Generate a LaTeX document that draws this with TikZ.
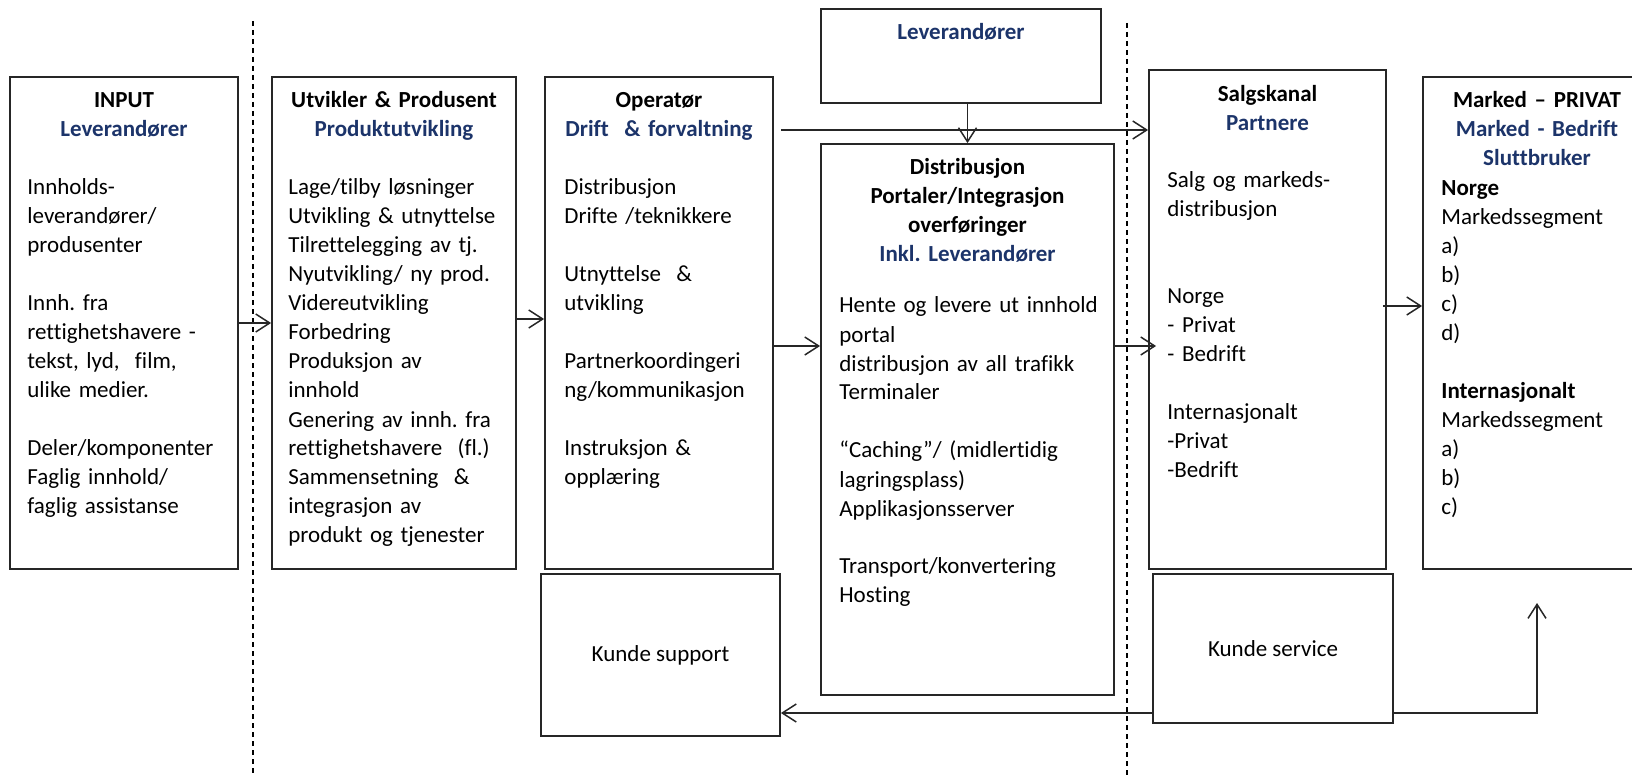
\documentclass[tikz,border=0pt]{standalone}
\usepackage{fontspec}
\setmainfont{Carlito}[Ligatures=NoCommon]
\frenchspacing
\usetikzlibrary{arrows.meta}
\definecolor{navy}{RGB}{28,52,106}

\begin{document}
\begin{tikzpicture}[
    x=0.5pt,
    y=-0.5pt,
    every node/.style={
      inner sep=0pt,
      font=\fontsize{11.5}{14.5}\selectfont
    },
    stagebox/.style={
      draw=black!85,
      line width=0.9pt,
      rectangle
    },
    headtext/.style={
      anchor=base,
      align=center,
      text width=130pt,
      font=\fontsize{11.5}{14.5}\selectfont\bfseries
    },
    listtext/.style={
      anchor=base west,
      align=left,
      text width=115pt
    },
    flow/.style={
      draw=black!85,
      line width=0.75pt,
      -{Straight Barb[length=7pt,width=9pt]}
    },
    divider/.style={
      draw=black,
      line width=0.6pt,
      dash pattern=on 2.5pt off 2pt
    }
  ]
    \useasboundingbox (0,0) rectangle (1632,775);

    \draw[divider] (253,21) -- (253,775);
    \draw[divider] (1127,23) -- (1127,775);

    \node[stagebox, minimum width=114pt, minimum height=246pt] (input) at (124,323) {};
    \node[stagebox, minimum width=122pt, minimum height=246pt] (utvikler) at (394,323) {};
    \node[stagebox, minimum width=114pt, minimum height=246pt] (operator) at (659,323) {};
    \node[stagebox, minimum width=140pt, minimum height=47pt] (lev) at (961,56) {};
    \node[stagebox, minimum width=146.5pt, minimum height=275.5pt] (distr) at (967.5,419.5) {};
    \node[stagebox, minimum width=118.5pt, minimum height=249.5pt] (salg) at (1267.5,319.5) {};
    \node[stagebox, minimum width=114pt, minimum height=246pt] (marked) at (1537,323) {};
    \node[stagebox, minimum width=119.5pt, minimum height=81pt] (support) at (660.5,655) {Kunde support};
    \node[stagebox, minimum width=120pt, minimum height=74.5pt] (service) at (1273,648.5) {Kunde service};

    \node[headtext] (inputhead) at (124,108) {INPUT\\\textcolor{navy}{Leverandører}};
    \node[headtext] (utvhead) at (394,108) {Utvikler \& Produsent\\\textcolor{navy}{Produktutvikling}};
    \node[headtext] (ophead) at (659,108) {Operatør\\\textcolor{navy}{Drift~ \& forvaltning}};
    \node[headtext] (levhead) at (961,40) {\textcolor{navy}{Leverandører}};
    \node[headtext] (disthead) at (967.5,175) {Distribusjon\\Portaler/Integrasjon\\overføringer\\\textcolor{navy}{Inkl. Leverandører}};
    \node[headtext] (salghead) at (1267.5,102) {Salgskanal\\\textcolor{navy}{Partnere}};
    \node[headtext] (markhead) at (1537,108) {Marked – PRIVAT\\\textcolor{navy}{Marked - Bedrift}\\\textcolor{navy}{Sluttbruker}};

    \node[listtext] (inputlist) at (27,195) {Innholds-\\leverandører/\\produsenter\\[14.5pt]Innh. fra\\rettighetshavere -\\tekst, lyd,~ film,\\ulike medier.\\[14.5pt]Deler/komponenter\\Faglig innhold/\\faglig assistanse};
    \node[listtext] (utvlist) at (288,195) {Lage/tilby løsninger\\Utvikling \& utnyttelse\\Tilrettelegging av tj.\\Nyutvikling/ ny prod.\\Videreutvikling\\Forbedring\\Produksjon av\\innhold\\Genering av innh. fra\\rettighetshavere~ (fl.)\\Sammensetning~ \&\\integrasjon av\\produkt og tjenester};
    \node[listtext] (oplist) at (564,195) {Distribusjon\\Drifte /teknikkere\\[14.5pt]Utnyttelse~ \&\\utvikling\\[14.5pt]Partnerkoordingeri\\ng/kommunikasjon\\[14.5pt]Instruksjon \&\\opplæring};
    \node[listtext, text width=140pt] (distlist) at (839,313) {Hente og levere ut innhold\\portal\\distribusjon av all trafikk\\Terminaler\\[14.5pt]“Caching”/ (midlertidig\\lagringsplass)\\Applikasjonsserver\\[14.5pt]Transport/konvertering\\Hosting};
    \node[listtext] (salglist) at (1167,188) {Salg og markeds-\\distribusjon\\[29pt]Norge\\- Privat\\- Bedrift\\[14.5pt]Internasjonalt\\-Privat\\-Bedrift};
    \node[listtext] (markedlist) at (1441,196) {\textbf{Norge}\\Markedssegment\\a)\\b)\\c)\\d)\\[14.5pt]\textbf{Internasjonalt}\\Markedssegment\\a)\\b)\\c)};

    \coordinate (optop) at (781,130);
    \coordinate (markin) at (1537,603);

    \draw[flow] (input.east) -- (utvikler.west);
    \draw[flow] ([yshift=2pt]utvikler.east) -- ([yshift=2pt]operator.west);
    \draw[flow] (operator.east |- 0,346) -- (distr.west |- 0,346);
    \draw[flow] (optop) -- (optop -| salg.west);
    \draw[flow] (lev.south -| distr.north) -- (distr.north);
    \draw[flow] (distr.east |- 0,346) -- ([xshift=4pt]salg.west |- 0,346);
    \draw[flow] ([xshift=-2pt]salg.east |- 0,306) -- (marked.west |- 0,306);
    \draw[flow] (service.west |- 0,713) -- (support.east |- 0,713);
    \draw[flow] (service.east |- 0,713) -| (markin);
  \end{tikzpicture}
\end{document}
